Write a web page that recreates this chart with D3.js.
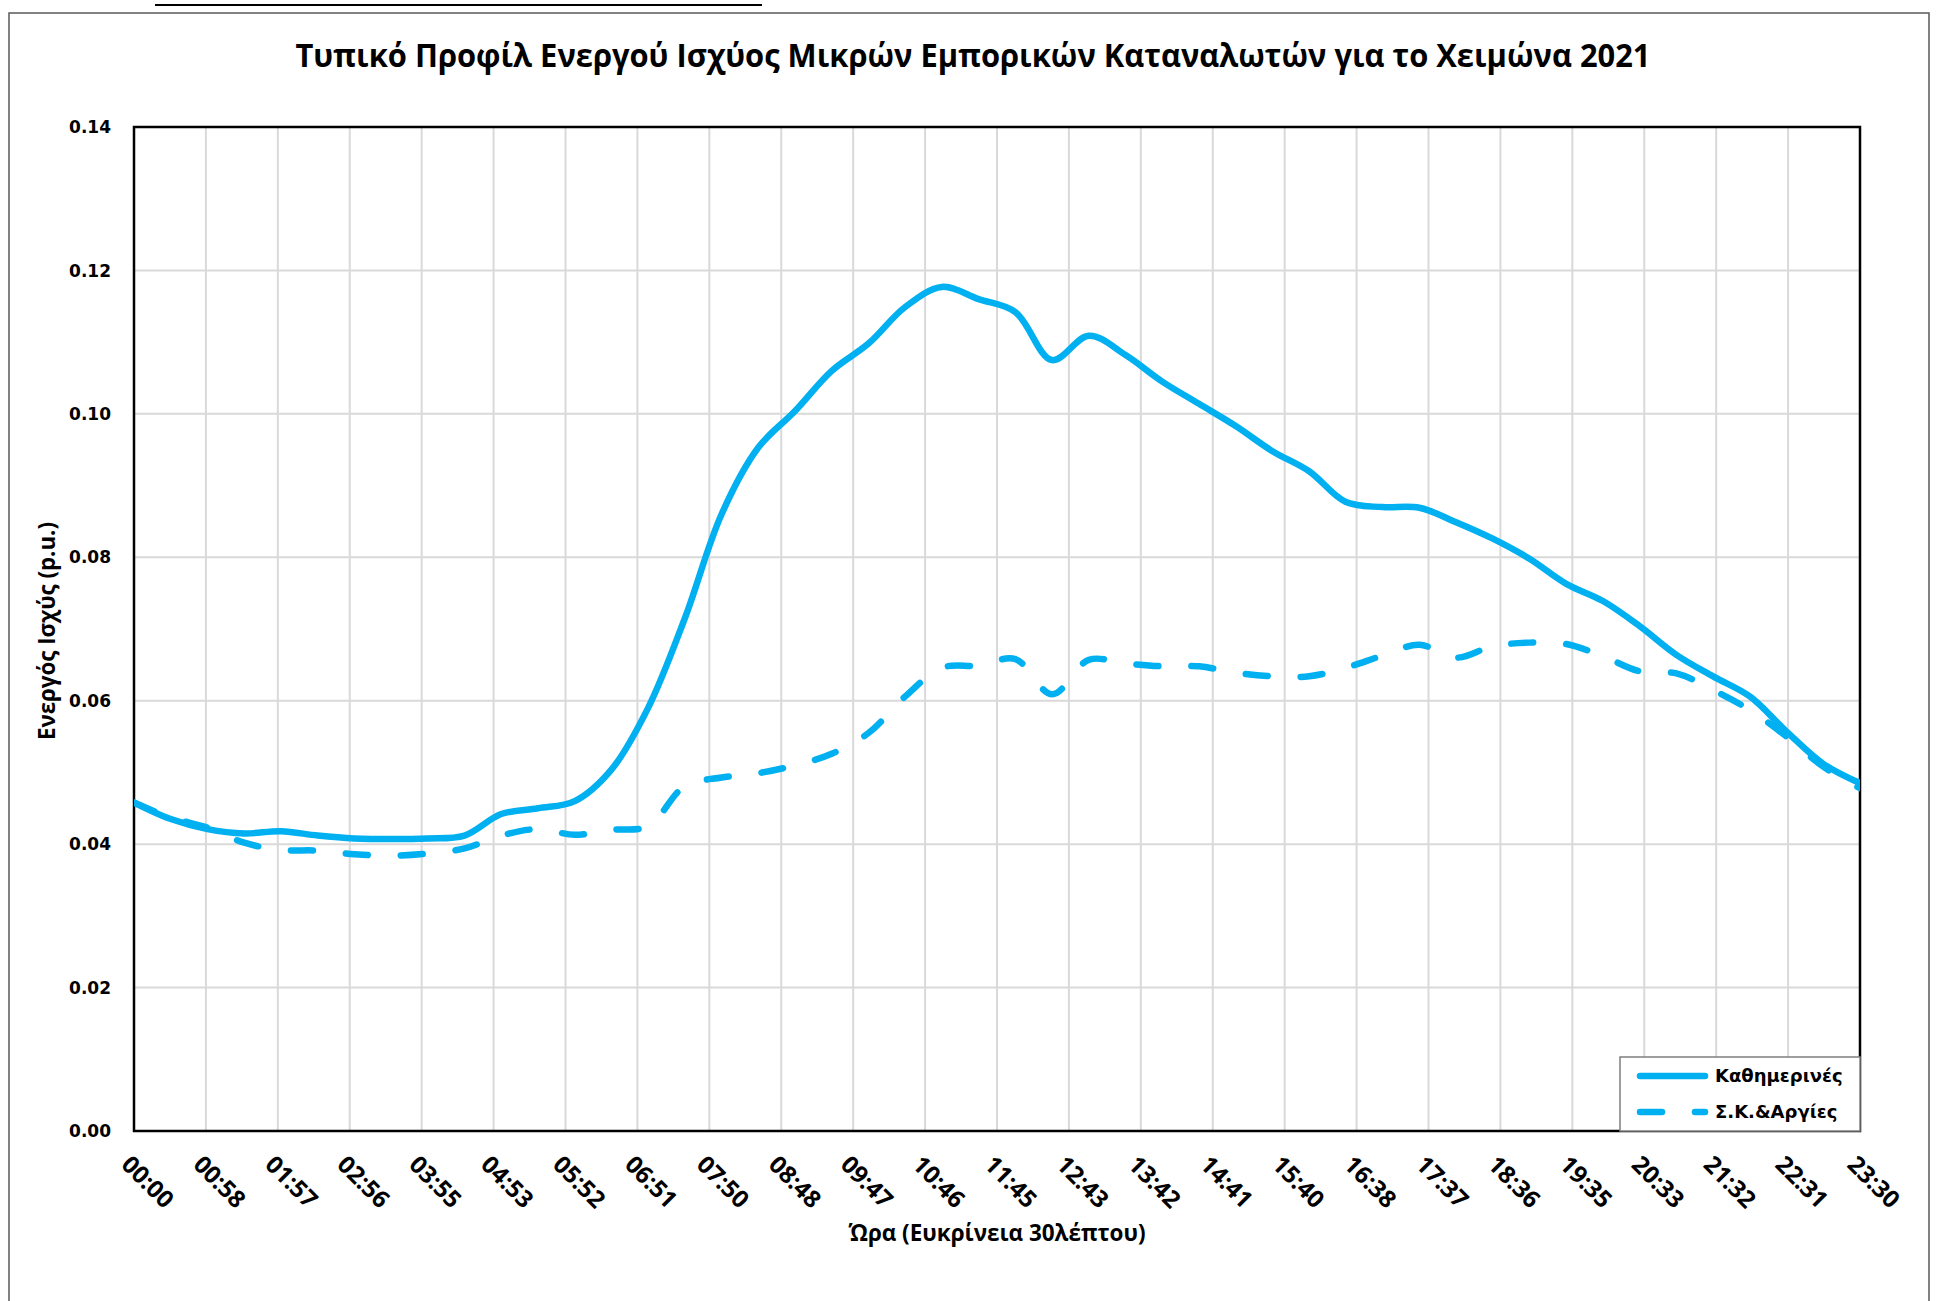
<!DOCTYPE html>
<html>
<head>
<meta charset="utf-8">
<script src="https://cdn.jsdelivr.net/npm/d3@7"></script>
<style>
  body { margin: 0; background: #fff; }
  svg { display: block; }
</style>
</head>
<body>
<svg id="chart" width="1938" height="1301"></svg>
<script>
// ==========================
// DATA
// ==========================
const times = [
  "00:00","00:30","01:00","01:30","02:00","02:30","03:00","03:30",
  "04:00","04:30","05:00","05:30","06:00","06:30","07:00","07:30",
  "08:00","08:30","09:00","09:30","10:00","10:30","11:00","11:30",
  "12:00","12:30","13:00","13:30","14:00","14:30","15:00","15:30",
  "16:00","16:30","17:00","17:30","18:00","18:30","19:00","19:30",
  "20:00","20:30","21:00","21:30","22:00","22:30","23:00","23:30"
];

// Καθημερινές
const weekdays = [
  0.0458, 0.0435, 0.0421, 0.0415, 0.0418, 0.0412, 0.0408, 0.0407,
  0.0408, 0.0412, 0.0442, 0.0450, 0.0460, 0.0504, 0.0590, 0.0715,
  0.0860, 0.0953, 0.1004, 0.1060, 0.1098, 0.1149, 0.1177, 0.1160,
  0.1142, 0.1075, 0.1109, 0.1082, 0.1045, 0.1014, 0.0983, 0.0948,
  0.0920, 0.0877, 0.0870, 0.0869, 0.0849, 0.0826, 0.0798, 0.0763,
  0.0739, 0.0704, 0.0664, 0.0634, 0.0606, 0.0557, 0.0512, 0.0485
];

// Σ.Κ.&Αργίες
const holidays = [
  0.0458, 0.0437, 0.0423, 0.0402, 0.0392, 0.0391, 0.0386, 0.0384,
  0.0387, 0.0394, 0.0412, 0.0421, 0.0413, 0.0420, 0.0425, 0.0481,
  0.0493, 0.0499, 0.0510, 0.0526, 0.0555, 0.0606, 0.0646, 0.0649,
  0.0658, 0.0609, 0.0657, 0.0652, 0.0648, 0.0648, 0.0639, 0.0634,
  0.0634, 0.0646, 0.0663, 0.0678, 0.0660, 0.0676, 0.0681, 0.0679,
  0.0662, 0.0641, 0.0638, 0.0615, 0.0587, 0.0550, 0.0508, 0.0478
];

const xTickLabels = [
  "00:00","00:58","01:57","02:56","03:55","04:53","05:52","06:51",
  "07:50","08:48","09:47","10:46","11:45","12:43","13:42","14:41",
  "15:40","16:38","17:37","18:36","19:35","20:33","21:32","22:31","23:30"
];
const yTicks = [0, 0.02, 0.04, 0.06, 0.08, 0.10, 0.12, 0.14];

const title = "Τυπικό Προφίλ Ενεργού Ισχύος Μικρών Εμπορικών Καταναλωτών για το Χειμώνα 2021";
const xTitle = "Ώρα (Ευκρίνεια 30λέπτου)";
const yTitle = "Ενεργός Ισχύς (p.u.)";
const seriesNames = ["Καθημερινές", "Σ.Κ.&Αργίες"];

// ==========================
// LAYOUT
// ==========================
const svg = d3.select("#chart");
const plot = { left: 134, right: 1860, top: 127, bottom: 1131 };
const blue = "#00B0F0";
const dash = "22,33";

const toMin = s => { const p = s.split(":"); return +p[0] * 60 + +p[1]; };
const maxMin = toMin(times[times.length - 1]);

const x = d3.scaleLinear().domain([0, maxMin]).range([plot.left, plot.right]);
const y = d3.scaleLinear().domain([0, 0.14]).range([plot.bottom, plot.top]);
const tickPos = xTickLabels.map((d, i) => i * maxMin / (xTickLabels.length - 1));

svg.append("rect").attr("width", 1938).attr("height", 1301).attr("fill", "#fff");

// fragment of underlined text above the chart
svg.append("line")
    .attr("x1", 155).attr("x2", 762).attr("y1", 5).attr("y2", 5)
    .attr("stroke", "#000").attr("stroke-width", 2);

// chart area border
svg.append("rect")
    .attr("x", 9).attr("y", 13).attr("width", 1920).attr("height", 1400)
    .attr("fill", "none").attr("stroke", "#595959").attr("stroke-width", 1.5);

// Title
svg.append("text")
    .attr("x", 973).attr("y", 67)
    .attr("text-anchor", "middle")
    .attr("font-family", "'Open Sans', sans-serif")
    .attr("font-weight", "bold").attr("font-size", 33)
    .attr("textLength", 1355).attr("lengthAdjust", "spacingAndGlyphs")
    .text(title);

// Grid
const grid = svg.append("g").attr("stroke", "#d9d9d9").attr("stroke-width", 2);
grid.selectAll(".vgrid")
    .data(tickPos.slice(1, -1))
    .enter().append("line")
    .attr("x1", d => x(d)).attr("x2", d => x(d))
    .attr("y1", plot.top).attr("y2", plot.bottom);
grid.selectAll(".hgrid")
    .data(yTicks.slice(1, -1))
    .enter().append("line")
    .attr("x1", plot.left).attr("x2", plot.right)
    .attr("y1", d => y(d)).attr("y2", d => y(d));

// Plot border
svg.append("rect")
    .attr("x", plot.left).attr("y", plot.top)
    .attr("width", plot.right - plot.left).attr("height", plot.bottom - plot.top)
    .attr("fill", "none").attr("stroke", "#000").attr("stroke-width", 2.5);

// Y axis labels
svg.append("g").selectAll("text")
    .data(yTicks)
    .enter().append("text")
    .attr("x", 111).attr("y", d => y(d)).attr("dy", "0.36em")
    .attr("text-anchor", "end")
    .attr("font-family", "'DejaVu Sans', sans-serif")
    .attr("font-weight", "bold").attr("font-size", 17)
    .text(d => d.toFixed(2));

// X axis labels (rotated)
svg.append("g").selectAll("text")
    .data(xTickLabels)
    .enter().append("text")
    .attr("transform", (d, i) => `translate(${x(tickPos[i]) - 14},${plot.bottom + 35}) rotate(45)`)
    .attr("font-family", "'Open Sans', sans-serif")
    .attr("font-weight", "bold").attr("font-size", 24)
    .text(d => d);

// Axis titles
svg.append("text")
    .attr("x", 997).attr("y", 1241)
    .attr("text-anchor", "middle")
    .attr("font-family", "'Open Sans', sans-serif")
    .attr("font-weight", "bold").attr("font-size", 24)
    .attr("textLength", 297).attr("lengthAdjust", "spacingAndGlyphs")
    .text(xTitle);

svg.append("text")
    .attr("transform", `translate(47,631) rotate(-90)`)
    .attr("dy", "0.36em")
    .attr("text-anchor", "middle")
    .attr("font-family", "'Open Sans', sans-serif")
    .attr("font-weight", "bold").attr("font-size", 23)
    .attr("textLength", 218).attr("lengthAdjust", "spacingAndGlyphs")
    .text(yTitle);

// Lines
svg.append("clipPath").attr("id", "plot-clip")
    .append("rect")
    .attr("x", plot.left).attr("y", plot.top)
    .attr("width", plot.right - plot.left).attr("height", plot.bottom - plot.top);

const line = d3.line()
    .x((d, i) => x(toMin(times[i])))
    .y(d => y(d))
    .curve(d3.curveCatmullRom.alpha(0.5));

const lines = svg.append("g").attr("clip-path", "url(#plot-clip)");
lines.append("path")
    .datum(weekdays)
    .attr("d", line)
    .attr("fill", "none").attr("stroke", blue).attr("stroke-width", 6.5)
    .attr("stroke-linecap", "round").attr("stroke-linejoin", "round");
lines.append("path")
    .datum(holidays)
    .attr("d", line)
    .attr("fill", "none").attr("stroke", blue).attr("stroke-width", 6.5)
    .attr("stroke-dasharray", dash)
    .attr("stroke-linecap", "round").attr("stroke-linejoin", "round");

// Legend
const legend = svg.append("g");
legend.append("rect")
    .attr("x", 1620).attr("y", 1057).attr("width", 240).attr("height", 74)
    .attr("fill", "#fff").attr("stroke", "#7f7f7f").attr("stroke-width", 1.5);

const rows = legend.selectAll(".row")
    .data(seriesNames)
    .enter().append("g")
    .attr("transform", (d, i) => `translate(0,${1076 + i * 36})`);
rows.append("line")
    .attr("x1", 1640).attr("x2", 1705)
    .attr("stroke", blue).attr("stroke-width", 6.5)
    .attr("stroke-linecap", "round")
    .attr("stroke-dasharray", (d, i) => i === 1 ? dash : null);
rows.append("text")
    .attr("x", 1715).attr("dy", "0.36em")
    .attr("font-family", "'DejaVu Sans', sans-serif")
    .attr("font-weight", "bold").attr("font-size", 18)
    .text(d => d);
</script>
</body>
</html>
